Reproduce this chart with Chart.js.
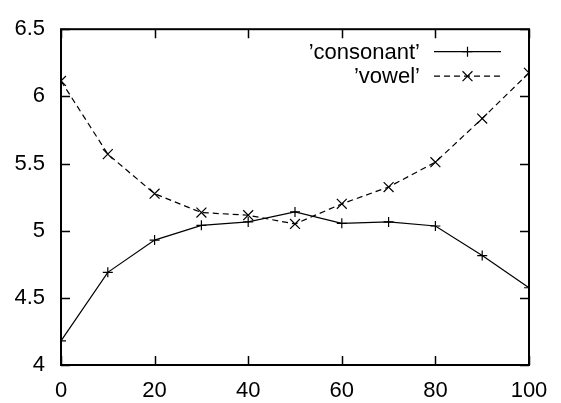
<!DOCTYPE html>
<html>
<head>
<meta charset="utf-8">
<script src="https://cdn.jsdelivr.net/npm/chart.js@4/dist/chart.umd.min.js"></script>
<style>
  html, body { margin: 0; padding: 0; background: #fff; }
  #wrap { width: 561px; height: 403px; }
</style>
</head>
<body>
<div id="wrap"><canvas id="myChart" width="561" height="403"></canvas></div>
<script>
const xs = [0, 10, 20, 30, 40, 50, 60, 70, 80, 90, 100];
const consonant = [4.18, 4.69, 4.93, 5.04, 5.065, 5.14, 5.055, 5.065, 5.035, 4.815, 4.575];
const vowel = [6.115, 5.57, 5.275, 5.135, 5.115, 5.05, 5.2, 5.325, 5.51, 5.835, 6.175];
const seriesNames = ["\u2019consonant\u2019", "\u2019vowel\u2019"];

const font = { family: "'Liberation Sans', Arial, sans-serif", size: 22 };

// gnuplot style frame with inward ticks mirrored on all sides
const framePlugin = {
  id: "frame",
  afterDatasetsDraw(chart) {
    const ctx = chart.ctx;
    const a = chart.chartArea;
    const xScale = chart.scales.x;
    const yScale = chart.scales.y;
    const len = 9;
    ctx.save();
    ctx.strokeStyle = "#000";
    ctx.lineWidth = 1.5;
    ctx.beginPath();
    xScale.ticks.forEach((t) => {
      const px = Math.round(xScale.getPixelForValue(t.value)) + 0.5;
      ctx.moveTo(px, a.bottom);
      ctx.lineTo(px, a.bottom - len);
      ctx.moveTo(px, a.top);
      ctx.lineTo(px, a.top + len);
    });
    yScale.ticks.forEach((t) => {
      const py = Math.round(yScale.getPixelForValue(t.value)) + 0.5;
      ctx.moveTo(a.left, py);
      ctx.lineTo(a.left + len, py);
      ctx.moveTo(a.right, py);
      ctx.lineTo(a.right - len, py);
    });
    ctx.stroke();
    ctx.lineWidth = 2;
    ctx.strokeRect(a.left, a.top, a.right - a.left, a.bottom - a.top);

    // key, text on the left, sample on the right
    ctx.font = font.size + "px " + font.family;
    ctx.textAlign = "right";
    ctx.textBaseline = "middle";
    ctx.fillStyle = "#000";
    chart.data.datasets.forEach((ds, i) => {
      const y = a.top + 22.5 + i * 24.5;
      ctx.fillText(ds.label, 420, y + 1);
      ctx.lineWidth = 1.2;
      ctx.setLineDash(ds.borderDash || []);
      ctx.beginPath();
      ctx.moveTo(434, y);
      ctx.lineTo(501, y);
      ctx.stroke();
      ctx.setLineDash([]);
      Chart.helpers.drawPoint(ctx, {
        pointStyle: ds.pointStyle,
        radius: ds.pointRadius,
        borderWidth: 1.2,
        rotation: 0
      }, 467.5, y);
    });
    ctx.restore();
  }
};

const data = {
  datasets: [
    {
      label: seriesNames[0],
      data: xs.map((x, i) => ({ x: x, y: consonant[i] })),
      borderColor: "#000",
      backgroundColor: "#000",
      borderWidth: 1.2,
      pointStyle: "cross",
      pointRadius: 5,
      pointBorderWidth: 1.2,
      pointBorderColor: "#000",
    },
    {
      label: seriesNames[1],
      data: xs.map((x, i) => ({ x: x, y: vowel[i] })),
      borderColor: "#000",
      backgroundColor: "#000",
      borderWidth: 1.2,
      borderDash: [6, 4],
      pointStyle: "crossRot",
      pointRadius: 7,
      pointBorderWidth: 1.2,
      pointBorderColor: "#000",
    },
  ],
};

const config = {
  type: "line",
  data: data,
  plugins: [framePlugin],
  options: {
    responsive: false,
    animation: false,
    events: [],
    layout: { padding: { top: 17, right: 32, left: 0, bottom: 0 } },
    plugins: {
      legend: { display: false },
      tooltip: { enabled: false },
    },
    scales: {
      x: {
        type: "linear",
        min: 0,
        max: 100,
        border: { display: false },
        grid: { display: false, drawTicks: false },
        ticks: { stepSize: 20, color: "#000", font: font, padding: 13, maxRotation: 0 },
        afterFit(scale) { scale.height = 38; },
      },
      y: {
        type: "linear",
        min: 4,
        max: 6.5,
        border: { display: false },
        grid: { display: false, drawTicks: false },
        ticks: {
          stepSize: 0.5,
          color: "#000",
          font: font,
          padding: 16,
          callback: (v) => String(v),
        },
        afterFit(scale) { scale.width = 61; },
      },
    },
  },
};

const myChart = new Chart(document.getElementById("myChart").getContext("2d"), config);
</script>
</body>
</html>
